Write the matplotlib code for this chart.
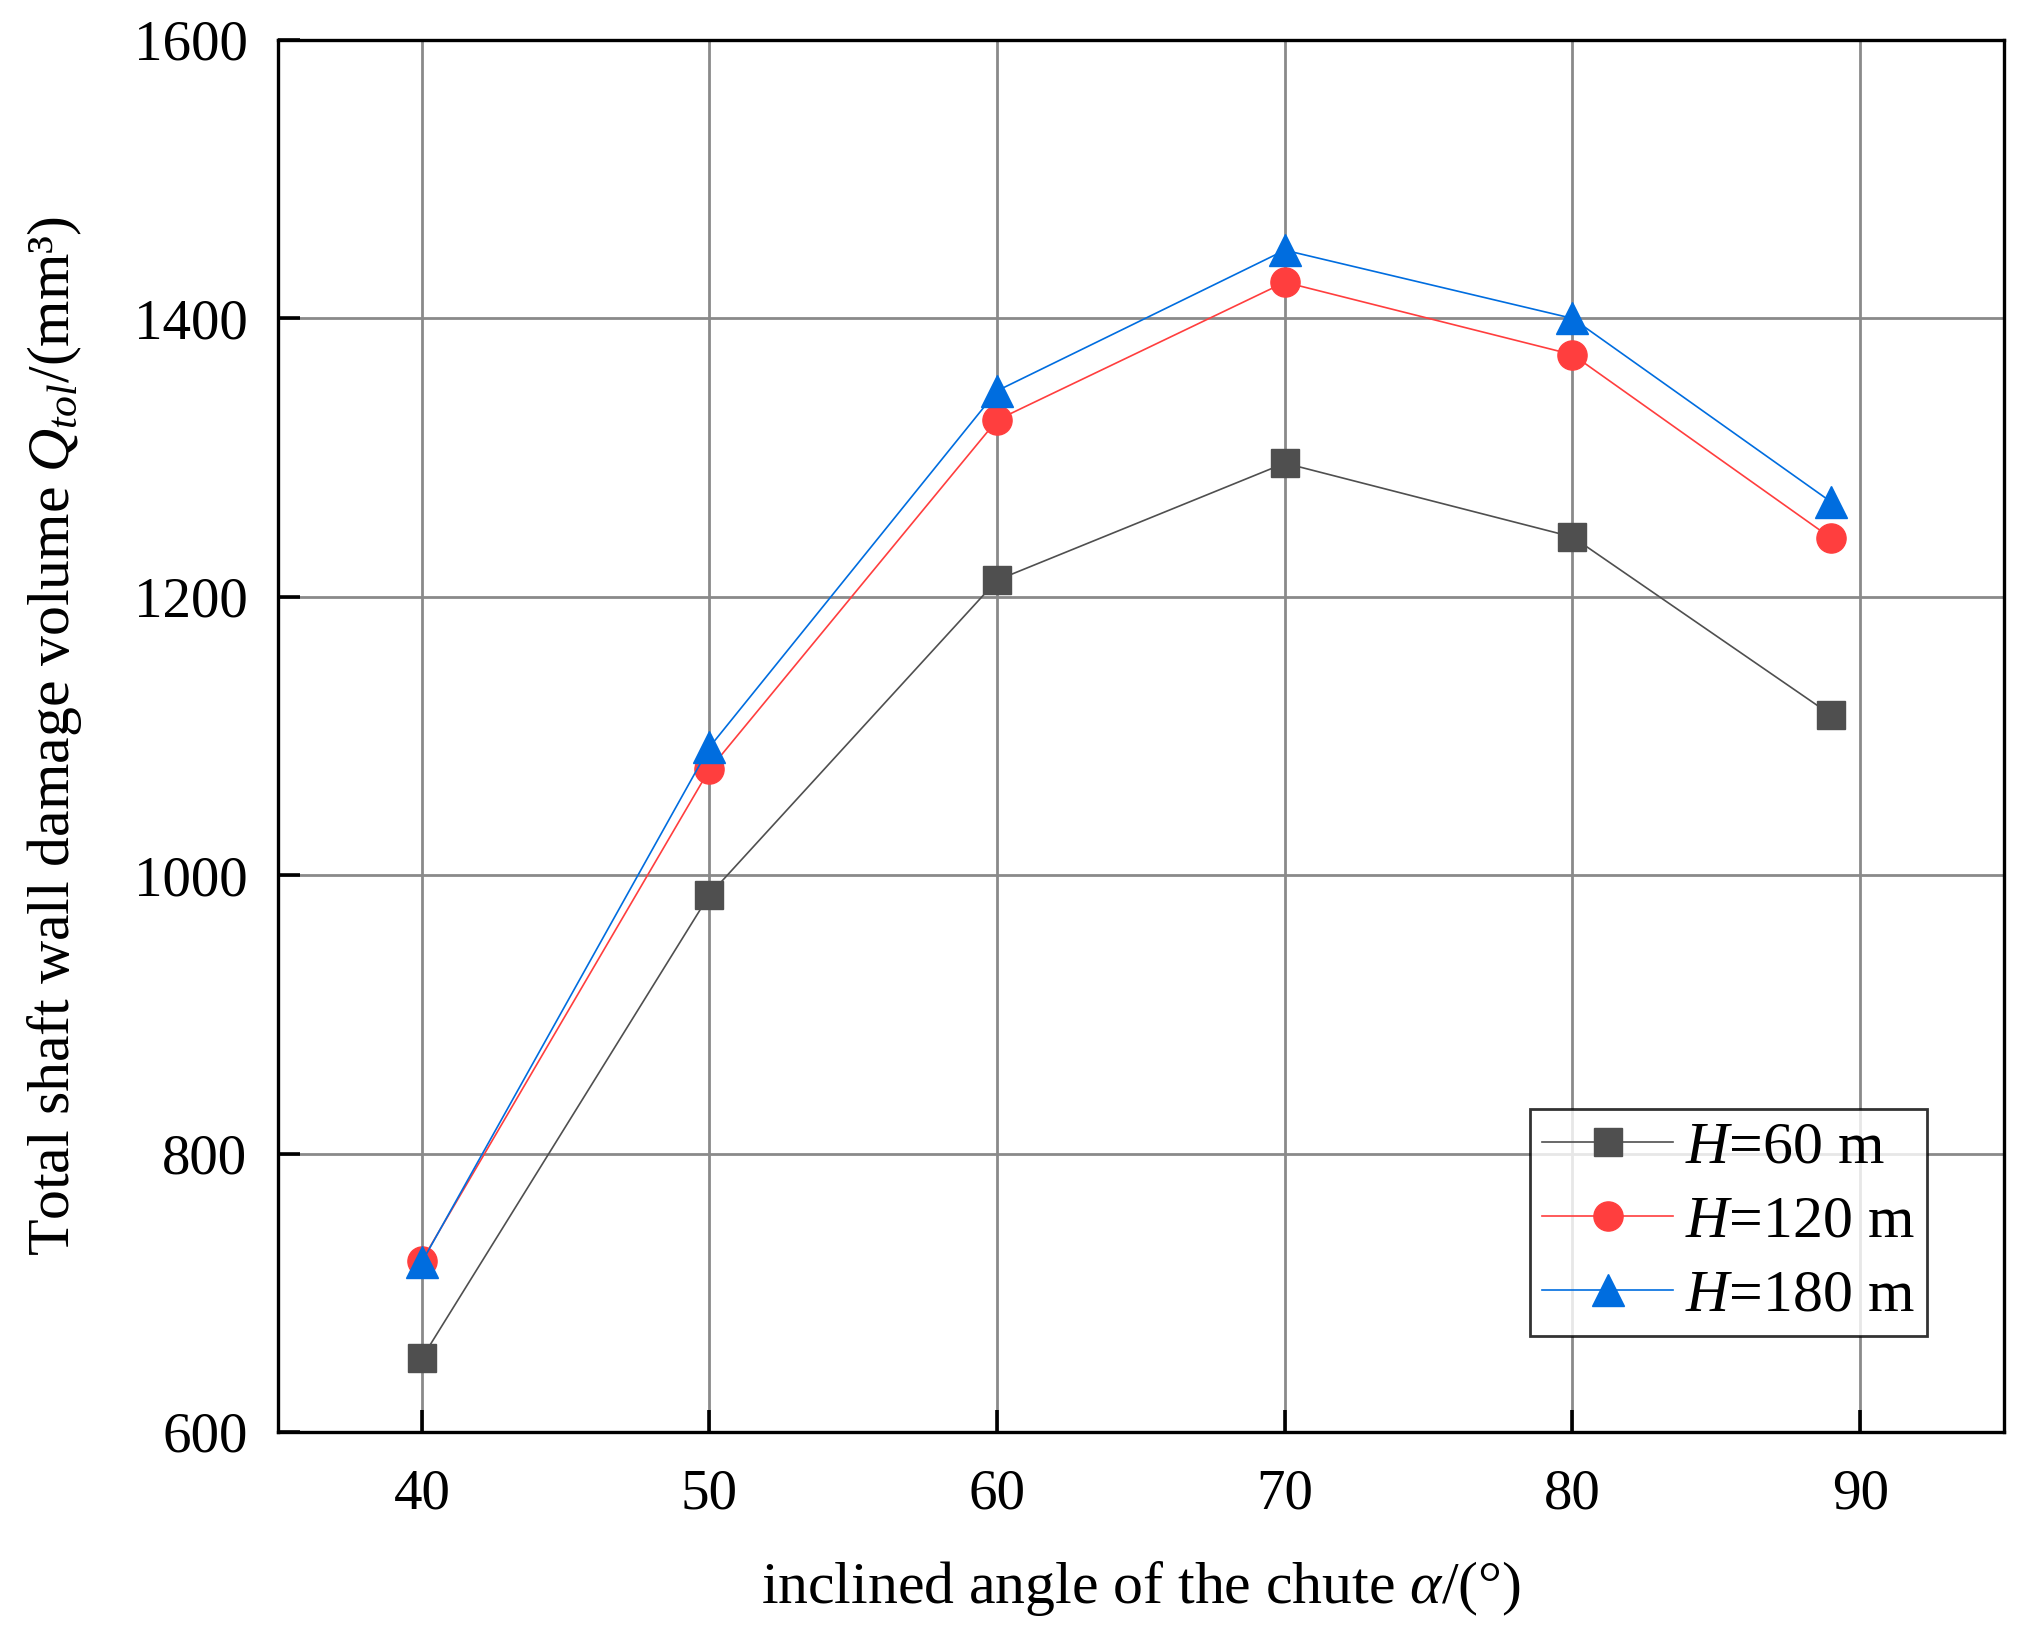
import matplotlib
matplotlib.use('Agg')
import matplotlib.pyplot as plt

plt.rcParams['font.family'] = ['Liberation Serif', 'DejaVu Serif']
plt.rcParams['mathtext.fontset'] = 'custom'
plt.rcParams['mathtext.rm'] = 'Liberation Serif'
plt.rcParams['mathtext.it'] = 'Liberation Serif:italic'

# data
angles = [40, 50, 60, 70, 80, 89]
q_h60 = [653, 986, 1212, 1296, 1243, 1115]
q_h120 = [723, 1076, 1327, 1426, 1374, 1242]
q_h180 = [722, 1092, 1348, 1449, 1400, 1268]
labels = ['$H$=60 m', '$H$=120 m', '$H$=180 m']
xticks = [40, 50, 60, 70, 80, 90]
yticks = [600, 800, 1000, 1200, 1400, 1600]

W, H = 2023, 1641
fig = plt.figure(figsize=(W/100, H/100), dpi=100)
ax = fig.add_axes([278/W, 1-1432/H, (2004-278)/W, (1432-40)/H])

ax.plot(angles, q_h60, color='#4f4f4f', lw=1.2, marker='s', ms=20, mfc='#4f4f4f', mec='#4f4f4f', label=labels[0], zorder=3)
ax.plot(angles, q_h120, color='#ff3e3e', lw=1.2, marker='o', ms=21, mfc='#ff3e3e', mec='#ff3e3e', label=labels[1], zorder=4)
ax.plot(angles, q_h180, color='#006ddf', lw=1.2, marker='^', ms=23, mfc='#006ddf', mec='#006ddf', label=labels[2], zorder=5)

ax.set_xlim(35, 95)
ax.set_ylim(600, 1600)
ax.set_xticks(xticks)
ax.set_yticks(yticks)
ax.grid(True, color='#8a8a8a', lw=2.0)
ax.set_axisbelow(True)
for s in ax.spines.values():
    s.set_linewidth(2.4)
ax.tick_params(direction='in', length=16, width=2.6, labelsize=41)
ax.tick_params(axis='x', pad=26)
ax.tick_params(axis='y', pad=22)

ax.set_xlabel(r'inclined angle of the chute $\alpha$/(°)', fontsize=43, labelpad=28)
ax.set_ylabel(r'Total shaft wall damage volume $Q_{tol}$/(mm³)', fontsize=43, labelpad=36)

leg = ax.legend(loc='upper left', bbox_to_anchor=(0.7254, 0.232), borderaxespad=0,
                fontsize=43, frameon=True, fancybox=False, edgecolor='black',
                handlelength=2.2, handletextpad=0.2, borderpad=0.2, labelspacing=0.32)
leg.get_frame().set_linewidth(2.0)

fig.savefig('out.png', dpi=100)
